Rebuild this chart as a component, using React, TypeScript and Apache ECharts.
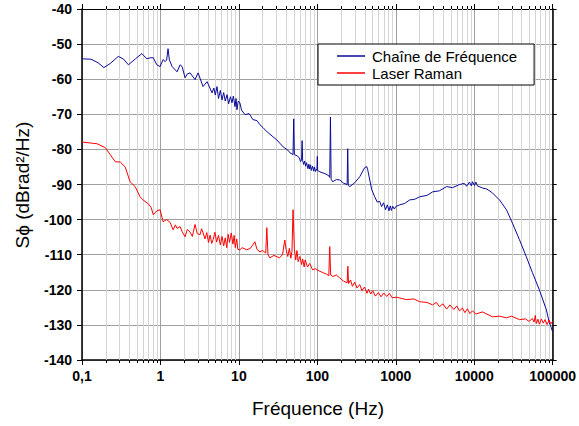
import React, { useEffect, useRef } from "react";
import * as echarts from "echarts";

// Chaîne de Fréquence (blue)
const blueFreq = [0.1, 0.13, 0.16, 0.19, 0.23, 0.29, 0.34, 0.39, 0.48, 0.58, 0.67, 0.74, 0.81, 0.9, 0.99, 1.08, 1.15, 1.2, 1.25, 1.3, 1.41, 1.63, 1.78, 1.89, 2.06, 2.2, 2.39, 2.76, 3.02, 3.49, 3.93, 4.55, 4.8, 5.0, 5.26, 5.5, 5.8, 6.1, 6.4, 6.7, 7.06, 7.4, 7.8, 8.17, 8.5, 8.92, 9.2, 9.46, 9.8, 10.3, 10.8, 11.97, 13.5, 15.1, 17, 18.6, 20.3, 22.9, 27.2, 30.5, 36.7, 42, 45, 49, 50, 51, 55, 59, 61, 63, 64, 65, 67, 69, 71, 73, 76, 78, 80, 82, 84, 87, 90, 92, 95, 99, 100, 101, 108, 125, 140, 144, 147, 150, 157, 175, 193, 215, 240, 244, 248, 259, 300, 347, 402, 427, 439, 494, 539, 580, 624, 660, 700, 740, 780, 820, 850, 880, 914, 960, 1000, 1122, 1300, 1503, 1750, 2015, 2500, 2950, 3600, 4446, 5300, 6500, 7500, 8000, 8710, 9200, 9500, 10090, 10500, 11000, 12760, 14500, 17100, 21000, 25800, 30700, 37700, 46200, 55200, 67700, 83200, 90800, 96200, 100000];
const blueDb = [-54.2, -54.3, -55.3, -56.7, -55.5, -53.5, -54.3, -55.9, -54.2, -52.7, -54.2, -53.9, -53.9, -55.9, -56.4, -54.4, -55, -54.5, -51.3, -54.5, -56.4, -57.9, -55.9, -56.4, -59.6, -58.5, -58.2, -60.1, -58.2, -62.1, -60.7, -63.9, -62.5, -64.5, -62.1, -65.5, -63.2, -65.9, -63.8, -66.2, -64.4, -67, -65, -66.7, -64.8, -67.8, -65.5, -68.7, -66.3, -66.7, -68.8, -70.1, -69.8, -71.5, -71.8, -73.0, -73.8, -75.0, -76.4, -77.3, -79.3, -80.2, -81.0, -81.5, -71.3, -81.5, -81.8, -82.4, -83.5, -83, -77.5, -83.2, -84.3, -83.3, -84.8, -83.8, -85.5, -84.2, -85.6, -84.4, -86, -84.8, -86.2, -85, -86.3, -85.5, -82, -86, -86.4, -86.9, -87.5, -88, -70.8, -88.5, -89.2, -88.6, -88.7, -89.6, -90, -79.8, -90.3, -90.6, -89.5, -87.8, -85.2, -84.9, -85.8, -91.5, -93.5, -95, -94.8, -96.3, -95.2, -97.2, -95.8, -97.5, -96.1, -97.4, -96.2, -97, -96.3, -95.8, -95.4, -94.4, -94.2, -93.5, -93.1, -92.1, -91.8, -90.6, -90.9, -90.0, -89.7, -90.5, -89.3, -90.4, -89.2, -90.3, -89.3, -90.4, -91, -91.3, -92.4, -94.4, -97.2, -101, -105.7, -110.6, -115.1, -120, -125.7, -129.4, -130.8, -132];

// Laser Raman (red)
const redFreq = [0.1, 0.156, 0.198, 0.229, 0.265, 0.307, 0.355, 0.41, 0.476, 0.55, 0.6, 0.7, 0.76, 0.81, 0.9, 0.99, 1.08, 1.2, 1.33, 1.45, 1.55, 1.63, 1.78, 1.9, 2.06, 2.2, 2.38, 2.55, 2.76, 2.95, 3.2, 3.35, 3.5, 3.7, 3.9, 4.1, 4.3, 4.5, 4.7, 4.95, 5.2, 5.5, 5.8, 6.1, 6.4, 6.7, 7.0, 7.3, 7.6, 8.0, 8.4, 8.7, 9.0, 9.4, 9.7, 10.3, 11, 12.6, 14, 16, 17, 18.6, 20, 22, 22.7, 23.5, 24.8, 28, 33, 36, 38.5, 40, 42, 44, 46, 47.5, 49, 51, 53, 55, 57, 60, 63, 65, 68, 70, 75, 80, 87, 95, 105, 117, 130, 140, 144, 148, 158, 175, 193, 215, 240, 245, 250, 265, 280, 300, 320, 347, 370, 400, 430, 450, 480, 508, 550, 600, 650, 700, 766, 830, 900, 1020, 1370, 1700, 2015, 2500, 2950, 3300, 3600, 4000, 4450, 4900, 5500, 6000, 6500, 7080, 7600, 8200, 8800, 9500, 10500, 12760, 17100, 21000, 25800, 30000, 37700, 45000, 50000, 55200, 58000, 60000, 62000, 65000, 67700, 72000, 76000, 80000, 85000, 90000, 95000, 100000];
const redDb = [-77.9, -78.4, -79.5, -81.5, -83.5, -83.6, -85, -89.2, -90.6, -93.5, -94.4, -95.5, -96.5, -98.6, -97.5, -97.2, -100.6, -100, -100.8, -102.9, -101.5, -102.5, -102, -103.5, -104.9, -102.8, -103.5, -104.8, -101.4, -104, -104.3, -102.6, -103.8, -105.5, -103.7, -106.5, -104.4, -106.8, -105.7, -103.6, -106.4, -104.5, -107.2, -104.8, -107.5, -105.2, -108, -104.2, -106.5, -103.8, -107, -104.5, -108, -105.5, -108.5, -108.6, -108, -108.6, -108.2, -106.3, -108.5, -109.2, -108.8, -109.5, -102.3, -110, -110.9, -110.2, -110.9, -110, -105.8, -108.5, -110.5, -108.2, -111, -109, -97.2, -108.5, -111.5, -108.8, -112, -110.5, -112.8, -111.2, -113.5, -111.5, -113.5, -112.5, -114.3, -114, -114.6, -115.1, -115.5, -116, -107.7, -115.8, -116.2, -115.8, -116.6, -117.5, -118, -113.3, -118.2, -117.2, -119, -117.8, -119.5, -118.5, -120.2, -119.2, -121, -119.8, -121.2, -120.2, -121.8, -120.8, -122, -120.9, -121.9, -121, -122.3, -122.1, -122.8, -122.6, -123.4, -123.6, -124.3, -123.6, -124.8, -124, -125.5, -124.3, -125.6, -124.6, -126, -125.2, -126.5, -125.4, -126.8, -126, -126.9, -126.3, -127.7, -127.5, -128, -127.5, -128.5, -128.3, -129, -128.2, -129.2, -127.3, -129.6, -128.4, -129.8, -128.3, -129.5, -128.5, -129.9, -128.6, -129.7, -129];

const xMin = 0.1;
const xMax = 100000;
const yMin = -140;
const yMax = -40;
const minorFactors = [2, 3, 4, 5, 6, 7, 8, 9];
const decades = [0.1, 1, 10, 100, 1000, 10000];

const FONT = "'Liberation Sans', Arial, sans-serif";

export default function App() {
  const ref = useRef<HTMLDivElement>(null);
  useEffect(() => {
    document.body.style.margin = "0";
    if (!ref.current) return;
    const chart = echarts.init(ref.current, null, { renderer: "svg" });
    const minorTicks: number[][] = [];
    decades.forEach((d) => minorFactors.forEach((f) => minorTicks.push([+(d * f).toPrecision(6), yMin])));
    const zip = (a: number[], b: number[]) => a.map((v, i) => [v, b[i]]);

    chart.setOption({
      animation: false,
      grid: { left: 82, right: 26, top: 9, bottom: 66 },
      legend: {
        data: ["Chaîne de Fréquence", "Laser Raman"],
        orient: "vertical",
        left: 318,
        top: 44,
        padding: [3.5, 17, 3.5, 19],
        itemGap: 0,
        itemWidth: 28,
        itemHeight: 1.5,
        icon: "rect",
        backgroundColor: "#fff",
        borderColor: "#000",
        borderWidth: 1,
        borderRadius: 0,
        textStyle: { fontFamily: FONT, fontSize: 15, lineHeight: 17, color: "#000", padding: [0, 0, 0, 2] },
      },
      xAxis: [
        {
          type: "log",
          logBase: 10,
          min: xMin,
          max: xMax,
          position: "bottom",
          axisLine: { lineStyle: { color: "#000", width: 1.5 } },
          axisTick: { show: true, length: 5, inside: false, lineStyle: { color: "#000" } },
          axisLabel: {
            margin: 9,
            fontFamily: FONT,
            fontSize: 14,
            fontWeight: "bold",
            color: "#000",
            formatter: (v: number) => (v < 0.5 ? "0,1" : String(Math.round(v))),
          },
          splitLine: { show: true, lineStyle: { color: "#a0a0a0", width: 1 } },
        },
        {
          type: "log",
          logBase: 10,
          min: xMin,
          max: xMax,
          position: "top",
          axisLine: { lineStyle: { color: "#000", width: 1 } },
          axisTick: { show: true, length: 5, inside: false, lineStyle: { color: "#000" } },
          axisLabel: { show: false },
          splitLine: { show: false },
        },
      ],
      yAxis: [
        {
          type: "value",
          min: yMin,
          max: yMax,
          interval: 10,
          position: "left",
          axisLine: { show: true, lineStyle: { color: "#000", width: 1.5 } },
          axisTick: { show: true, length: 5, inside: false, lineStyle: { color: "#000" } },
          axisLabel: { margin: 10, fontFamily: FONT, fontSize: 14, fontWeight: "bold", color: "#000" },
          splitLine: { show: true, lineStyle: { color: "#a0a0a0", width: 1 } },
        },
        {
          type: "value",
          min: yMin,
          max: yMax,
          interval: 10,
          position: "right",
          axisLine: { show: true, lineStyle: { color: "#000", width: 1.5 } },
          axisTick: { show: true, length: 4, inside: false, lineStyle: { color: "#000" } },
          axisLabel: { show: false },
          splitLine: { show: false },
        },
      ],
      graphic: [
        {
          type: "text",
          x: 318,
          y: 408,
          style: { text: "Fréquence (Hz)", fontFamily: FONT, fontSize: 19, fill: "#000", align: "center", verticalAlign: "middle" },
        },
        {
          type: "text",
          x: 22,
          y: 185,
          rotation: Math.PI / 2,
          style: { text: "Sϕ (dBrad²/Hz)", fontFamily: FONT, fontSize: 19, fill: "#000", align: "center", verticalAlign: "middle" },
        },
      ],
      series: [
        {
          type: "custom",
          name: "minor",
          silent: true,
          clip: false,
          z: 1,
          xAxisIndex: 0,
          yAxisIndex: 0,
          data: minorTicks,
          renderItem: (_p: any, api: any) => {
            const v = api.value(0);
            const b = api.coord([v, yMin]);
            const t = api.coord([v, yMax]);
            const x = Math.round(b[0]) + 0.5;
            return {
              type: "group",
              children: [
                { type: "line", shape: { x1: x, y1: b[1], x2: x, y2: t[1] }, style: { stroke: "#d4d4d4", lineWidth: 1 } },
                { type: "line", shape: { x1: x, y1: b[1], x2: x, y2: b[1] + 3 }, style: { stroke: "#000", lineWidth: 1 } },
                { type: "line", shape: { x1: x, y1: t[1], x2: x, y2: t[1] - 3 }, style: { stroke: "#000", lineWidth: 1 } },
              ],
            };
          },
        },
        {
          type: "line",
          name: "Chaîne de Fréquence",
          data: zip(blueFreq, blueDb),
          showSymbol: false,
          symbol: "none",
          z: 3,
          lineStyle: { color: "#0a0a9a", width: 1 },
          itemStyle: { color: "#0a0a9a" },
        },
        {
          type: "line",
          name: "Laser Raman",
          data: zip(redFreq, redDb),
          showSymbol: false,
          symbol: "none",
          z: 4,
          lineStyle: { color: "#ff0000", width: 1 },
          itemStyle: { color: "#ff0000" },
        },
      ],
    });
    return () => chart.dispose();
  }, []);
  return <div ref={ref} style={{ width: 579, height: 426 }} />;
}
